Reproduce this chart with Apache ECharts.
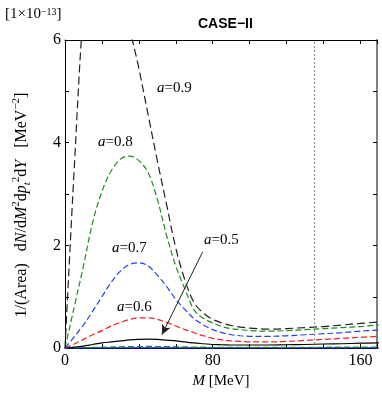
<!DOCTYPE html>
<html>
<head>
<meta charset="utf-8">
<script src="https://cdn.jsdelivr.net/npm/echarts@6/dist/echarts.min.js"></script>
<style>
  html, body { margin: 0; padding: 0; background: #fff; }
  #main { width: 382px; height: 394px; }
</style>
</head>
<body>
<div id="main"></div>
<script>
// M [MeV] sample points, values in units of 1e-13 MeV^-2
const massGrid = [0, 5, 10, 15, 20, 25, 30, 35, 40, 45, 50, 55, 60, 65, 70, 75, 80, 85, 90, 95, 100, 110, 120, 130, 140, 150, 160, 170];
const a09 = [0, 3.5, 6.6, 8.3, 9.0, 8.9, 8.0, 6.3, 5.45, 4.55, 3.65, 2.8, 1.95, 1.32, 0.88, 0.68, 0.56, 0.49, 0.44, 0.41, 0.39, 0.37, 0.38, 0.40, 0.42, 0.45, 0.48, 0.51];
const a08 = [0, 0.8, 1.6, 2.45, 3.05, 3.45, 3.68, 3.74, 3.65, 3.42, 2.9, 2.2, 1.6, 1.15, 0.74, 0.58, 0.49, 0.42, 0.38, 0.36, 0.34, 0.33, 0.34, 0.36, 0.38, 0.40, 0.42, 0.45];
const a07 = [0, 0.22, 0.45, 0.72, 1.0, 1.28, 1.5, 1.63, 1.66, 1.6, 1.42, 1.2, 0.95, 0.75, 0.57, 0.45, 0.36, 0.30, 0.26, 0.24, 0.23, 0.23, 0.24, 0.26, 0.28, 0.30, 0.33, 0.35];
const a06 = [0, 0.08, 0.17, 0.26, 0.34, 0.43, 0.50, 0.56, 0.59, 0.59, 0.56, 0.50, 0.43, 0.36, 0.30, 0.24, 0.19, 0.16, 0.14, 0.13, 0.12, 0.12, 0.13, 0.15, 0.17, 0.19, 0.21, 0.23];
const a05 = [0, 0.02, 0.04, 0.07, 0.10, 0.12, 0.14, 0.16, 0.17, 0.175, 0.17, 0.155, 0.14, 0.12, 0.10, 0.085, 0.07, 0.065, 0.06, 0.06, 0.06, 0.06, 0.065, 0.07, 0.08, 0.085, 0.095, 0.10];
const a04 = [0, 0.004, 0.008, 0.013, 0.018, 0.022, 0.026, 0.029, 0.031, 0.032, 0.031, 0.029, 0.026, 0.023, 0.02, 0.018, 0.016, 0.015, 0.014, 0.014, 0.014, 0.014, 0.015, 0.016, 0.017, 0.018, 0.019, 0.02];
const a03 = [0, 0.001, 0.001, 0.002, 0.002, 0.003, 0.003, 0.003, 0.003, 0.003, 0.003, 0.003, 0.003, 0.002, 0.002, 0.002, 0.002, 0.002, 0.002, 0.002, 0.002, 0.002, 0.002, 0.002, 0.002, 0.002, 0.002, 0.002];

const pionMass = 135;
const arrowFrom = [74.5, 1.87];
const arrowTo = [52.5, 0.26];

const serif = 'Liberation Serif';
const toPairs = arr => massGrid.map((m, i) => [m, arr[i]]);

const chart = echarts.init(document.getElementById('main'));

const curve = (name, arr, color, type, extra) => Object.assign({
  name: name,
  type: 'line',
  data: toPairs(arr),
  smooth: 0.35,
  showSymbol: false,
  clip: true,
  lineStyle: { color: color, width: 1.2, type: type },
  z: 3
}, extra || {});

const tickStyle = { show: true, inside: true, length: 4, lineStyle: { color: '#000', width: 1 } };
const blackLine = { show: true, onZero: false, lineStyle: { color: '#000', width: 1 } };

const option = {
  animation: false,
  title: {
    text: 'CASE\u2212II',
    left: 193,
    top: 12,
    textStyle: { fontFamily: 'Liberation Sans', fontWeight: 'bold', fontSize: 14, color: '#000' }
  },
  grid: { left: 65, right: 5, top: 40, bottom: 44 },
  xAxis: [
    {
      type: 'value', min: 0, max: 169, interval: 20, position: 'bottom',
      axisLine: blackLine,
      axisTick: tickStyle,
      splitLine: { show: false },
      axisLabel: {
        formatter: v => (v % 80 === 0 ? String(v) : ''),
        fontFamily: serif, fontSize: 16, color: '#000', margin: 5
      },
      name: '{i|M} [MeV]',
      nameLocation: 'middle',
      nameGap: 22,
      nameTextStyle: {
        fontFamily: serif, fontSize: 15, color: '#000',
        rich: { i: { fontFamily: serif, fontSize: 15, fontStyle: 'italic', color: '#000' } }
      }
    },
    {
      type: 'value', min: 0, max: 169, interval: 20, position: 'top',
      axisLine: blackLine,
      axisTick: tickStyle,
      splitLine: { show: false },
      axisLabel: { show: false }
    }
  ],
  yAxis: [
    {
      type: 'value', min: 0, max: 6, interval: 1, position: 'left',
      axisLine: blackLine,
      axisTick: tickStyle,
      splitLine: { show: false },
      axisLabel: {
        formatter: v => (v % 2 === 0 ? String(v) : ''),
        fontFamily: serif, fontSize: 16, color: '#000', margin: 4
      }
    },
    {
      type: 'value', min: 0, max: 6, interval: 1, position: 'right',
      axisLine: { show: true, onZero: false, lineStyle: { color: '#808080', width: 2 } },
      axisTick: tickStyle,
      splitLine: { show: false },
      axisLabel: { show: false }
    }
  ],
  graphic: [
    {
      type: 'text', x: 5, y: 7,
      style: {
        text: '[1\u00d710{s|\u221213}]',
        font: '15px "Liberation Serif"', fill: '#000',
        rich: { s: { fontFamily: serif, fontSize: 10, verticalAlign: 'top', fill: '#000' } }
      }
    },
    {
      // y axis title, rotated
      type: 'text', x: 22, y: 205, rotation: Math.PI / 2,
      style: {
        text: '1/(Area)   d{i|N}/d{i|M}{s|2}d{i|p}{b|t}{s|2}d{i|Y}   [MeV{s|\u22122}]',
        font: '16px "Liberation Serif"', fill: '#000',
        align: 'center', verticalAlign: 'middle', lineHeight: 22,
        rich: {
          i: { fontFamily: serif, fontSize: 16, fontStyle: 'italic', fill: '#000', lineHeight: 22 },
          s: { fontFamily: serif, fontSize: 11, fill: '#000', verticalAlign: 'top', lineHeight: 13 },
          b: { fontFamily: serif, fontSize: 11, fontStyle: 'italic', fill: '#000', verticalAlign: 'bottom', lineHeight: 13 }
        }
      }
    },
    ...[
      ['0.9', 157, 88],
      ['0.8', 98, 142],
      ['0.7', 112, 248],
      ['0.6', 117, 307],
      ['0.5', 204, 240]
    ].map(([val, x, y]) => ({
      type: 'text', x: x, y: y,
      style: {
        text: '{i|a}=' + val,
        font: '15px "Liberation Serif"', fill: '#000', verticalAlign: 'middle',
        rich: { i: { fontFamily: serif, fontSize: 15, fontStyle: 'italic', fill: '#000' } }
      },
      z: 10
    }))
  ],
  series: [
    curve('a=0.3', a03, '#1010e0', 'solid', { lineStyle: { color: '#1010e0', width: 1.4, type: 'solid' } }),
    curve('a=0.4', a04, '#1a8f1a', [6, 3], {
      markLine: {
        silent: true, symbol: 'none', label: { show: false },
        lineStyle: { color: '#888', width: 1, type: [2, 2] },
        data: [{ xAxis: pionMass }]
      }
    }),
    curve('a=0.5', a05, '#000', 'solid', {
      markLine: {
        silent: true, symbol: ['none', 'arrow'], symbolSize: [7, 10],
        label: { show: false },
        lineStyle: { color: '#222', width: 1, type: 'solid' },
        data: [[{ coord: arrowFrom }, { coord: arrowTo }]]
      }
    }),
    curve('a=0.6', a06, '#f02020', [6, 3]),
    curve('a=0.7', a07, '#2040f0', [6, 3]),
    curve('a=0.8', a08, '#1a8f1a', [6, 3]),
    curve('a=0.9', a09, '#202020', [8, 4])
  ]
};

chart.setOption(option);
</script>
</body>
</html>
